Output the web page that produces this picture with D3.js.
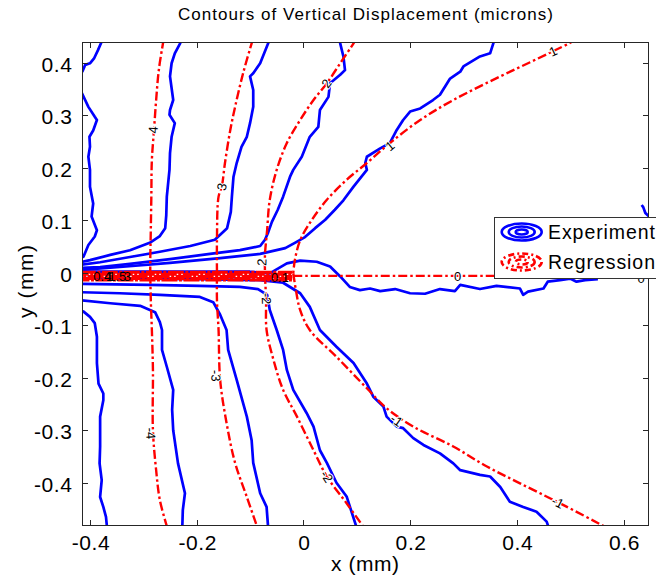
<!DOCTYPE html>
<html>
<head>
<meta charset="utf-8">
<script src="https://cdn.jsdelivr.net/npm/d3@7"></script>
<style>
  body { margin: 0; background: #fff; }
  svg { display: block; font-family: "Liberation Sans", Arial, sans-serif; }
</style>
</head>
<body>
<svg id="chart" width="656" height="581"></svg>
<script>
const title = 'Contours of Vertical Displacement (microns)';
const xLabel = 'x (mm)';
const yLabel = 'y (mm)';
const xDomain = [-0.4154, 0.6455];
const yDomain = [-0.4794, 0.4392];
const xTicks = [-0.4, -0.2, 0, 0.2, 0.4, 0.6];
const yTicks = [-0.4, -0.3, -0.2, -0.1, 0, 0.1, 0.2, 0.3, 0.4];
const legendNames = ['Experiment', 'Regression'];

// experiment contours (blue), x / y in mm
const expUpper4a = [[-0.379,0.445],[-0.380,0.439],[-0.386,0.425],[-0.393,0.410],[-0.401,0.400],[-0.410,0.397],[-0.415,0.385],[-0.42,0.378]];
const expUpper4b = [[-0.42,0.345],[-0.416,0.343],[-0.404,0.317],[-0.392,0.298],[-0.388,0.292],[-0.395,0.272],[-0.402,0.260],[-0.401,0.241],[-0.404,0.222],[-0.401,0.197],[-0.401,0.165],[-0.395,0.133],[-0.398,0.108],[-0.388,0.082],[-0.392,0.070],[-0.404,0.054],[-0.413,0.032],[-0.42,0.028]];
const expUpper3 = [[-0.229,0.445],[-0.232,0.438],[-0.242,0.419],[-0.248,0.400],[-0.251,0.375],[-0.245,0.330],[-0.251,0.311],[-0.252,0.302],[-0.242,0.286],[-0.248,0.260],[-0.251,0.229],[-0.252,0.197],[-0.257,0.146],[-0.258,0.111],[-0.260,0.086],[-0.270,0.071],[-0.289,0.058],[-0.326,0.044],[-0.363,0.035],[-0.401,0.025],[-0.42,0.021]];
const expUpper2 = [[-0.065,0.445],[-0.067,0.438],[-0.082,0.400],[-0.095,0.381],[-0.101,0.375],[-0.095,0.349],[-0.095,0.317],[-0.101,0.286],[-0.107,0.260],[-0.117,0.241],[-0.126,0.210],[-0.132,0.184],[-0.135,0.146],[-0.137,0.117],[-0.144,0.086],[-0.167,0.064],[-0.213,0.052],[-0.270,0.041],[-0.326,0.031],[-0.382,0.021],[-0.42,0.016]];
const expUpper1 = [[0.068,0.445],[0.068,0.438],[0.074,0.413],[0.077,0.387],[0.068,0.378],[0.049,0.362],[0.046,0.336],[0.030,0.311],[0.027,0.279],[0.011,0.260],[-0.004,0.222],[-0.020,0.197],[-0.026,0.184],[-0.039,0.146],[-0.049,0.121],[-0.060,0.098],[-0.067,0.078],[-0.073,0.064],[-0.082,0.052],[-0.120,0.044],[-0.176,0.037],[-0.251,0.027],[-0.326,0.018],[-0.382,0.012],[-0.42,0.010]];
const expUpper0 = [[0.358,0.445],[0.355,0.438],[0.349,0.419],[0.330,0.413],[0.299,0.394],[0.293,0.384],[0.274,0.371],[0.255,0.340],[0.242,0.330],[0.218,0.314],[0.199,0.308],[0.186,0.292],[0.174,0.273],[0.161,0.248],[0.143,0.238],[0.118,0.222],[0.115,0.210],[0.118,0.197],[0.093,0.165],[0.074,0.139],[0.058,0.121],[0.040,0.102],[0.021,0.086],[0.002,0.069],[-0.017,0.058],[-0.035,0.048],[-0.082,0.037],[-0.157,0.029],[-0.251,0.020],[-0.345,0.012],[-0.42,0.006]];
const expZero = [[-0.42,0.003],[-0.289,0.003],[-0.157,0.003],[-0.101,0.003],[-0.064,0.000],[-0.032,0.019],[-0.007,0.024],[0.024,0.022],[0.049,0.013],[0.068,-0.006],[0.086,-0.026],[0.105,-0.032],[0.124,-0.029],[0.143,-0.034],[0.171,-0.030],[0.199,-0.038],[0.227,-0.039],[0.255,-0.030],[0.283,-0.034],[0.293,-0.022],[0.330,-0.030],[0.361,-0.024],[0.405,-0.029],[0.411,-0.041],[0.420,-0.035],[0.449,-0.029],[0.457,-0.016],[0.480,-0.013],[0.499,-0.010],[0.511,-0.016],[0.527,-0.013],[0.551,-0.011]];
const expEdge = [[0.633,0.130],[0.636,0.126],[0.640,0.115],[0.645,0.110],[0.650,0.105]];
const expLower0 = [[-0.42,-0.009],[-0.195,-0.011],[-0.082,-0.013],[-0.039,-0.018],[-0.007,-0.038],[0.011,-0.064],[0.030,-0.108],[0.061,-0.140],[0.093,-0.171],[0.118,-0.210],[0.130,-0.235],[0.149,-0.254],[0.155,-0.273],[0.174,-0.292],[0.186,-0.295],[0.205,-0.314],[0.224,-0.327],[0.255,-0.343],[0.280,-0.362],[0.293,-0.375],[0.330,-0.384],[0.349,-0.387],[0.368,-0.407],[0.386,-0.435],[0.411,-0.445],[0.436,-0.454],[0.455,-0.473],[0.459,-0.485]];
const expLower1 = [[-0.42,-0.020],[-0.289,-0.022],[-0.195,-0.024],[-0.120,-0.026],[-0.086,-0.030],[-0.069,-0.041],[-0.064,-0.070],[-0.051,-0.108],[-0.039,-0.146],[-0.032,-0.184],[-0.020,-0.222],[0.005,-0.266],[0.018,-0.292],[0.030,-0.337],[0.043,-0.361],[0.061,-0.399],[0.080,-0.425],[0.099,-0.485]];
const expLower2 = [[-0.42,-0.036],[-0.345,-0.038],[-0.270,-0.041],[-0.195,-0.045],[-0.170,-0.055],[-0.157,-0.079],[-0.145,-0.108],[-0.142,-0.146],[-0.126,-0.203],[-0.107,-0.273],[-0.098,-0.318],[-0.095,-0.361],[-0.082,-0.419],[-0.070,-0.445],[-0.067,-0.485]];
const expLower3 = [[-0.42,-0.051],[-0.363,-0.057],[-0.307,-0.062],[-0.279,-0.074],[-0.270,-0.093],[-0.266,-0.108],[-0.266,-0.146],[-0.257,-0.178],[-0.245,-0.222],[-0.247,-0.260],[-0.245,-0.299],[-0.236,-0.362],[-0.223,-0.419],[-0.227,-0.451],[-0.228,-0.485]];
const expLower4 = [[-0.42,-0.071],[-0.413,-0.073],[-0.401,-0.083],[-0.392,-0.095],[-0.388,-0.121],[-0.388,-0.171],[-0.385,-0.210],[-0.376,-0.229],[-0.376,-0.242],[-0.382,-0.273],[-0.382,-0.330],[-0.383,-0.362],[-0.379,-0.394],[-0.382,-0.426],[-0.376,-0.445],[-0.371,-0.464],[-0.369,-0.485]];

// regression contours (red dash-dot)
const regPos4 = [[-0.263,0.445],[-0.264,0.439],[-0.272,0.387],[-0.277,0.330],[-0.281,0.273],[-0.285,0.216],[-0.286,0.146],[-0.287,0.082],[-0.288,0.025],[-0.288,0.002]];
const regNeg4 = [[-0.288,-0.003],[-0.287,-0.051],[-0.285,-0.108],[-0.283,-0.184],[-0.283,-0.299],[-0.277,-0.375],[-0.270,-0.432],[-0.256,-0.485]];
const regPos3 = [[-0.096,0.445],[-0.098,0.438],[-0.114,0.381],[-0.129,0.317],[-0.138,0.273],[-0.148,0.210],[-0.154,0.165],[-0.160,0.146],[-0.163,0.063],[-0.163,0.002]];
const regNeg3 = [[-0.163,-0.003],[-0.163,-0.051],[-0.160,-0.108],[-0.157,-0.203],[-0.145,-0.285],[-0.129,-0.361],[-0.107,-0.426],[-0.087,-0.485]];
const regPos2 = [[0.097,0.445],[0.093,0.438],[0.068,0.400],[0.043,0.362],[0.018,0.330],[-0.007,0.292],[-0.032,0.248],[-0.051,0.197],[-0.064,0.140],[-0.069,0.082],[-0.073,0.035],[-0.073,0.002]];
const regNeg2 = [[-0.073,-0.003],[-0.071,-0.051],[-0.070,-0.108],[-0.057,-0.165],[-0.039,-0.222],[-0.013,-0.273],[0.018,-0.337],[0.043,-0.387],[0.080,-0.438],[0.113,-0.485]];
const regPos1 = [[0.512,0.447],[0.499,0.439],[0.467,0.423],[0.424,0.402],[0.368,0.375],[0.280,0.330],[0.218,0.292],[0.161,0.248],[0.118,0.210],[0.080,0.178],[0.043,0.140],[0.015,0.102],[-0.007,0.063],[-0.017,0.025],[-0.020,0.000]];
const regNeg1 = [[-0.020,0.000],[-0.015,-0.032],[-0.007,-0.070],[0.011,-0.108],[0.061,-0.159],[0.118,-0.219],[0.155,-0.257],[0.205,-0.292],[0.280,-0.330],[0.343,-0.368],[0.405,-0.400],[0.480,-0.438],[0.561,-0.481],[0.570,-0.486]];
const regZero = [[-0.020,-0.005],[0.650,-0.005]];
// the many small levels bunched on the crack flanks
const crackFlankY = [0.002, -0.002, -0.006, -0.010, -0.013];
const crackFlankX = [-0.42, -0.022];

const curveLabels = [
  { text: '4', x: -0.283, y: 0.273, angle: -87 },
  { text: '3', x: -0.154, y: 0.165, angle: -78 },
  { text: '2', x: 0.042, y: 0.362, angle: -54 },
  { text: '1', x: 0.161, y: 0.243, angle: -39 },
  { text: '1', x: 0.467, y: 0.423, angle: -25 },
  { text: '0', x: 0.288, y: -0.005, angle: 0 },
  { text: '0', x: 0.632, y: -0.010, angle: 0 },
  { text: '-4', x: -0.287, y: -0.305, angle: 86 },
  { text: '-3', x: -0.165, y: -0.195, angle: 88 },
  { text: '-2', x: 0.043, y: -0.387, angle: 57 },
  { text: '-1', x: 0.174, y: -0.280, angle: 35 },
  { text: '-1', x: 0.476, y: -0.436, angle: 27 },
  { text: '2', x: -0.079, y: 0.021, angle: -88 },
  { text: '-2', x: -0.070, y: -0.048, angle: 88 }
];
// labels piled up on the crack flanks
const crackLabels = [
  { text: '0.1', x: -0.045, y: -0.008, angle: 0 },
  { text: '0.4', x: -0.378, y: -0.006, angle: 0 },
  { text: '1', x: -0.364, y: -0.006, angle: 0 },
  { text: '1.5', x: -0.350, y: -0.006, angle: 0 },
  { text: '3', x: -0.331, y: -0.006, angle: 0 }
];

const expLines = [expUpper4a, expUpper4b, expUpper3, expUpper2, expUpper1, expUpper0, expZero, expEdge,
  expLower0, expLower1, expLower2, expLower3, expLower4];
const regLines = [regPos4, regNeg4, regPos3, regNeg3, regPos2, regNeg2, regPos1, regNeg1, regZero];
const flankLines = crackFlankY.map(v => crackFlankX.map(cx => [cx, v]));

const svg = d3.select('#chart');
const plotLeft = 82.3, plotRight = 648.3, plotTop = 42.7, plotBottom = 525;

const x = d3.scaleLinear().domain(xDomain).range([plotLeft, plotRight]);
const y = d3.scaleLinear().domain(yDomain).range([plotBottom, plotTop]);

svg.append('defs').append('clipPath')
  .attr('id', 'plot-clip')
  .append('rect')
  .attr('x', plotLeft).attr('y', plotTop)
  .attr('width', plotRight - plotLeft).attr('height', plotBottom - plotTop);

const plot = svg.append('g').attr('clip-path', 'url(#plot-clip)');

const straight = d3.line().x(d => x(d[0])).y(d => y(d[1]));
const smooth = d3.line().x(d => x(d[0])).y(d => y(d[1])).curve(d3.curveCatmullRom.alpha(0.5));

plot.append('g').selectAll('path')
  .data(expLines)
  .join('path')
  .attr('d', straight)
  .attr('fill', 'none')
  .attr('stroke', '#0000ff')
  .attr('stroke-width', 2.7)
  .attr('stroke-linejoin', 'round');

plot.append('g').selectAll('path')
  .data(regLines)
  .join('path')
  .attr('d', smooth)
  .attr('fill', 'none')
  .attr('stroke', '#ff0000')
  .attr('stroke-width', 2.4)
  .attr('stroke-dasharray', '9,3,2.5,3');

// staggered dashes so the bunched flank levels read as one thick band
plot.append('g').selectAll('path')
  .data(flankLines)
  .join('path')
  .attr('d', straight)
  .attr('fill', 'none')
  .attr('stroke', '#ff0000')
  .attr('stroke-width', 3)
  .attr('stroke-dasharray', '16,1.5,3,1.5')
  .attr('stroke-dashoffset', (d, i) => i * 7.1);

function drawLabels(data, halo) {
  plot.append('g').selectAll('text')
    .data(data)
    .join('text')
    .attr('transform', d => `translate(${x(d.x)},${y(d.y)}) rotate(${d.angle})`)
    .attr('text-anchor', 'middle')
    .attr('dy', '0.36em')
    .attr('font-size', 13)
    .attr('fill', '#000')
    .attr('stroke', halo ? '#fff' : null)
    .attr('stroke-width', halo ? 2 : null)
    .attr('paint-order', 'stroke')
    .text(d => d.text);
}
drawLabels(curveLabels, true);
drawLabels(crackLabels, false);

// axes box with inward ticks on all four sides
const axes = svg.append('g').attr('stroke', '#262626').attr('shape-rendering', 'crispEdges');
axes.append('rect')
  .attr('x', plotLeft).attr('y', plotTop)
  .attr('width', plotRight - plotLeft).attr('height', plotBottom - plotTop)
  .attr('fill', 'none');
const tickLen = 5.5;
xTicks.forEach(t => {
  axes.append('line').attr('x1', x(t)).attr('x2', x(t)).attr('y1', plotBottom).attr('y2', plotBottom - tickLen);
  axes.append('line').attr('x1', x(t)).attr('x2', x(t)).attr('y1', plotTop).attr('y2', plotTop + tickLen);
});
yTicks.forEach(t => {
  axes.append('line').attr('y1', y(t)).attr('y2', y(t)).attr('x1', plotLeft).attr('x2', plotLeft + tickLen);
  axes.append('line').attr('y1', y(t)).attr('y2', y(t)).attr('x1', plotRight).attr('x2', plotRight - tickLen);
});

svg.append('g').selectAll('text')
  .data(xTicks)
  .join('text')
  .attr('x', d => x(d) + 0.5)
  .attr('y', 549.5)
  .attr('text-anchor', 'middle')
  .attr('font-size', 21)
  .attr('letter-spacing', 0.6)
  .text(d => String(d));

svg.append('g').selectAll('text')
  .data(yTicks)
  .join('text')
  .attr('x', 72.5)
  .attr('y', d => y(d) + 8.5)
  .attr('text-anchor', 'end')
  .attr('font-size', 21)
  .attr('letter-spacing', 0.6)
  .text(d => String(d));

svg.append('text')
  .attr('x', 178)
  .attr('y', 20)
  .attr('font-size', 17)
  .attr('textLength', 375)
  .attr('lengthAdjust', 'spacing')
  .text(title);

svg.append('text')
  .attr('x', 331)
  .attr('y', 571)
  .attr('font-size', 21)
  .attr('textLength', 68)
  .attr('lengthAdjust', 'spacing')
  .text(xLabel);

svg.append('text')
  .attr('transform', 'translate(33,318) rotate(-90)')
  .attr('font-size', 21)
  .attr('textLength', 73)
  .attr('lengthAdjust', 'spacing')
  .text(yLabel);

// legend
const legend = svg.append('g');
legend.append('rect')
  .attr('x', 494.5).attr('y', 217)
  .attr('width', 200).attr('height', 61)
  .attr('fill', '#fff')
  .attr('stroke', '#333')
  .attr('shape-rendering', 'crispEdges');
const ringSizes = [[20, 8.5], [13, 5.5], [6, 2.5]];
legendNames.forEach((name, i) => {
  const cy = 232 + i * 30;
  legend.append('g').selectAll('ellipse')
    .data(ringSizes)
    .join('ellipse')
    .attr('cx', 521.7).attr('cy', cy)
    .attr('rx', d => d[0]).attr('ry', d => d[1])
    .attr('fill', 'none')
    .attr('stroke', i === 0 ? '#0000ff' : '#ff0000')
    .attr('stroke-width', 2.6)
    .attr('stroke-dasharray', i === 0 ? null : '6,3,2,3');
  legend.append('text')
    .attr('x', 548).attr('y', cy + 7)
    .attr('font-size', 19.5)
    .attr('textLength', 107)
    .attr('lengthAdjust', 'spacing')
    .text(name);
});
</script>
</body>
</html>
